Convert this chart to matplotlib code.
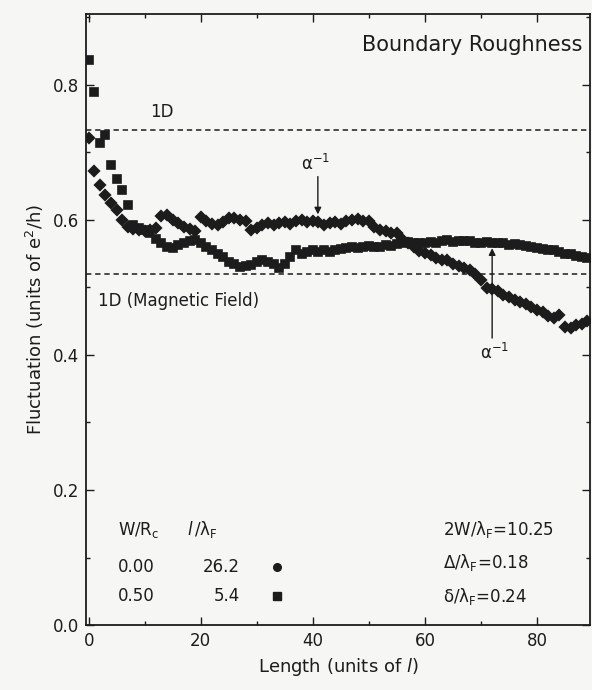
import matplotlib
matplotlib.use('Agg')
import matplotlib.pyplot as plt
from matplotlib.ticker import MultipleLocator, FormatStrFormatter


# sample length in units of the mean free path
length = list(range(90))

# W/Rc = 0.00, l/lambda_F = 26.2
fluct_b0 = [
    0.721, 0.672, 0.652, 0.637, 0.625, 0.615, 0.600, 0.590, 0.587, 0.585,
    0.583, 0.585, 0.588, 0.605, 0.607, 0.600, 0.595, 0.590, 0.586, 0.584,
    0.604, 0.598, 0.594, 0.593, 0.597, 0.602, 0.603, 0.600, 0.598, 0.585,
    0.588, 0.593, 0.595, 0.592, 0.596, 0.597, 0.594, 0.598, 0.600, 0.597,
    0.599, 0.597, 0.592, 0.595, 0.597, 0.594, 0.598, 0.600, 0.601, 0.598,
    0.598, 0.590, 0.585, 0.583, 0.580, 0.580, 0.572, 0.566, 0.560, 0.554,
    0.551, 0.548, 0.543, 0.540, 0.541, 0.535, 0.532, 0.528, 0.526, 0.520,
    0.511, 0.499, 0.497, 0.494, 0.488, 0.486, 0.481, 0.478, 0.476, 0.471,
    0.467, 0.464, 0.458, 0.455, 0.459, 0.441, 0.440, 0.444, 0.446, 0.450,
]

# W/Rc = 0.50, l/lambda_F = 5.4
fluct_b5 = [
    0.837, 0.789, 0.714, 0.726, 0.681, 0.661, 0.644, 0.622, 0.592, 0.588,
    0.585, 0.580, 0.572, 0.566, 0.560, 0.558, 0.563, 0.565, 0.568, 0.570,
    0.565, 0.560, 0.556, 0.550, 0.545, 0.538, 0.535, 0.530, 0.531, 0.533,
    0.537, 0.541, 0.538, 0.535, 0.528, 0.535, 0.545, 0.556, 0.550, 0.552,
    0.555, 0.553, 0.555, 0.552, 0.556, 0.557, 0.558, 0.560, 0.558, 0.560,
    0.561, 0.560, 0.560, 0.563, 0.562, 0.564, 0.565, 0.567, 0.566, 0.565,
    0.566, 0.567, 0.566, 0.568, 0.570, 0.567, 0.568, 0.569, 0.568, 0.566,
    0.566, 0.567, 0.566, 0.565, 0.566, 0.563, 0.564, 0.563, 0.561, 0.560,
    0.559, 0.557, 0.556, 0.555, 0.553, 0.550, 0.549, 0.547, 0.545, 0.544,
]

level_1d = 0.733
level_1d_field = 0.520

arrow_pos = [40.9, 72.0]

table_rows = [('0.00', '26.2', 'o'), ('0.50', '5.4', 's')]
params = ['2W/λ$_\\mathrm{F}$=10.25', 'Δ/λ$_\\mathrm{F}$=0.18', 'δ/λ$_\\mathrm{F}$=0.24']

ink = '#1c1c1c'
paper = '#f6f6f4'

plt.rcParams['font.family'] = 'DejaVu Sans'
plt.rcParams['mathtext.fontset'] = 'dejavusans'

fig = plt.figure(figsize=(5.92, 6.90), dpi=100, facecolor=paper)
ax = fig.add_axes([0.145, 0.094, 0.852, 0.886], facecolor=paper)

ax.plot(length, fluct_b0, ls='none', marker='D', ms=5.2, mew=1.6, color=ink, mec=ink)
ax.plot(length, fluct_b5, ls='none', marker='s', ms=5.4, mew=1.2, color=ink, mec=ink)

ax.axhline(level_1d, color=ink, lw=1.1, ls=(0, (3.5, 2.5)))
ax.axhline(level_1d_field, color=ink, lw=1.1, ls=(0, (3.5, 2.5)))

ax.text(10.9, 0.760, '1D', fontsize=12, color=ink, va='center')
ax.text(1.6, 0.480, '1D (Magnetic Field)', fontsize=12, color=ink, va='center')
ax.text(0.985, 0.965, 'Boundary Roughness', transform=ax.transAxes, fontsize=15,
        color=ink, ha='right', va='top')

# mean free path markers
arrow_kw = dict(arrowstyle='-|>', color=ink, lw=1.0, mutation_scale=10, shrinkA=0, shrinkB=0)
ax.annotate('', xy=(arrow_pos[0], 0.608), xytext=(arrow_pos[0], 0.664), arrowprops=arrow_kw)
ax.text(arrow_pos[0] - 0.4, 0.668, 'α$^{-1}$', fontsize=12, color=ink, ha='center', va='bottom')
ax.annotate('', xy=(arrow_pos[1], 0.558), xytext=(arrow_pos[1], 0.425), arrowprops=arrow_kw)
ax.text(arrow_pos[1] + 0.5, 0.418, 'α$^{-1}$', fontsize=12, color=ink, ha='center', va='top')

# parameter table
ax.text(5.2, 0.141, 'W/R$_\\mathrm{c}$', fontsize=12, color=ink, va='center')
ax.text(17.5, 0.141, '$l\\,$/λ$_\\mathrm{F}$', fontsize=12, color=ink, va='center')
for (wr, lam, mk), yy in zip(table_rows, [0.086, 0.043]):
    ax.text(5.2, yy, wr, fontsize=12, color=ink, va='center')
    ax.text(27.0, yy, lam, fontsize=12, color=ink, va='center', ha='right')
    ax.plot([33.6], [yy], ls='none', marker=mk, ms=5.5, color=ink)
for txt, yy in zip(params, [0.141, 0.092, 0.043]):
    ax.text(63.2, yy, txt, fontsize=12, color=ink, va='center')

ax.set_xlim(-0.5, 89.5)
ax.set_ylim(0, 0.905)
ax.xaxis.set_major_locator(MultipleLocator(20))
ax.xaxis.set_minor_locator(MultipleLocator(10))
ax.yaxis.set_major_locator(MultipleLocator(0.2))
ax.yaxis.set_minor_locator(MultipleLocator(0.1))
ax.yaxis.set_major_formatter(FormatStrFormatter('%.1f'))
ax.tick_params(which='both', direction='in', top=True, right=True, colors=ink,
               labelsize=12, width=1.0)
ax.tick_params(which='major', length=6, pad=5)
ax.tick_params(which='minor', length=3)
for sp in ax.spines.values():
    sp.set_linewidth(1.3)
    sp.set_color(ink)

ax.set_xlabel('Length (units of $l$)', fontsize=13, color=ink, labelpad=4)
ax.set_ylabel('Fluctuation (units of e$^2$/h)', fontsize=13, color=ink, labelpad=5)

fig.savefig('out.png', dpi=100, facecolor=paper)
